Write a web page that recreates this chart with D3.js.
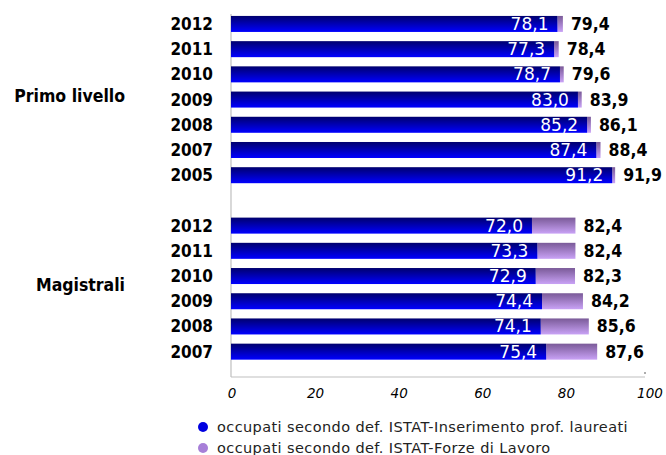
<!DOCTYPE html>
<html>
<head>
<meta charset="utf-8">
<script src="https://cdn.jsdelivr.net/npm/d3@7"></script>
<style>
  body { margin: 0; background: #fff; }
  text { font-family: "DejaVu Sans", sans-serif; }
  .cond { font-stretch: condensed; }
</style>
</head>
<body>
<div id="chart"></div>
<script>
var groups = ["Primo livello", "Magistrali"],
    primoYears = ["2012", "2011", "2010", "2009", "2008", "2007", "2005"],
    primoInserimento = [78.1, 77.3, 78.7, 83.0, 85.2, 87.4, 91.2],
    primoForze = [79.4, 78.4, 79.6, 83.9, 86.1, 88.4, 91.9],
    magYears = ["2012", "2011", "2010", "2009", "2008", "2007"],
    magInserimento = [72.0, 73.3, 72.9, 74.4, 74.1, 75.4],
    magForze = [82.4, 82.4, 82.3, 84.2, 85.6, 87.6],
    xTicks = [0, 20, 40, 60, 80, 100],
    seriesNames = ["occupati secondo def. ISTAT-Inserimento prof. laureati",
                   "occupati secondo def. ISTAT-Forze di Lavoro"];

var W = 666, H = 455,
    margin = { top: 14, left: 231, right: 17, bottom: 78 };

var rows = [];
primoYears.forEach(function (y, i) {
    rows.push({ key: "p" + y, year: y, g: 0, a: primoInserimento[i], b: primoForze[i] });
});
rows.push({ key: "gap", year: "", g: -1 });
magYears.forEach(function (y, i) {
    rows.push({ key: "m" + y, year: y, g: 1, a: magInserimento[i], b: magForze[i] });
});
var data = rows.filter(function (d) { return d.g >= 0; });

var svg = d3.select("#chart").append("svg")
    .attr("width", W)
    .attr("height", H);

var defs = svg.append("defs");
var gBlue = defs.append("linearGradient").attr("id", "gBlue")
    .attr("x1", 0).attr("y1", 0).attr("x2", 0).attr("y2", 1);
gBlue.append("stop").attr("offset", "0%").attr("stop-color", "#00006e");
gBlue.append("stop").attr("offset", "100%").attr("stop-color", "#0000ff");
var gPurple = defs.append("linearGradient").attr("id", "gPurple")
    .attr("x1", 0).attr("y1", 0).attr("x2", 0).attr("y2", 1);
gPurple.append("stop").attr("offset", "0%").attr("stop-color", "#7a5a98");
gPurple.append("stop").attr("offset", "100%").attr("stop-color", "#c9a2f6");

var x = d3.scaleLinear()
    .domain([0, 100])
    .range([margin.left, margin.left + 418]);

var y = d3.scaleBand()
    .domain(rows.map(function (d) { return d.key; }))
    .range([11.4, 364.2])
    .paddingInner(0.365)
    .paddingOuter(0.18);

// frame lines
svg.append("line")
    .attr("x1", margin.left).attr("x2", margin.left)
    .attr("y1", margin.top).attr("y2", 377)
    .attr("stroke", "#bfbfbf").attr("stroke-width", 1.2);
svg.append("line")
    .attr("x1", margin.left).attr("x2", x(100) - 4)
    .attr("y1", 377).attr("y2", 377)
    .attr("stroke", "#bfbfbf").attr("stroke-width", 1.2);

var bars = svg.selectAll(".row")
    .data(data)
    .enter().append("g")
    .attr("class", "row");

bars.append("rect")
    .attr("x", function (d) { return x(d.a); })
    .attr("y", function (d) { return y(d.key); })
    .attr("width", function (d) { return x(d.b) - x(d.a); })
    .attr("height", y.bandwidth())
    .attr("fill", "url(#gPurple)");

bars.append("rect")
    .attr("x", x(0))
    .attr("y", function (d) { return y(d.key); })
    .attr("width", function (d) { return x(d.a) - x(0); })
    .attr("height", y.bandwidth())
    .attr("fill", "url(#gBlue)");

var fmt = function (v) { return v.toFixed(1).replace(".", ","); };

bars.append("text")
    .attr("x", function (d) { return x(d.a) - 9; })
    .attr("y", function (d) { return y(d.key) + y.bandwidth() / 2 + 6; })
    .attr("text-anchor", "end")
    .attr("fill", "#fff")
    .attr("font-size", 17)
    .text(function (d) { return fmt(d.a); });

bars.append("text")
    .attr("class", "cond")
    .attr("x", function (d) { return x(d.b) + 8; })
    .attr("y", function (d) { return y(d.key) + y.bandwidth() / 2 + 6; })
    .attr("fill", "#000")
    .attr("font-size", 17.5)
    .attr("font-weight", "bold")
    .text(function (d) { return fmt(d.b); });

// year labels
bars.append("text")
    .attr("class", "cond")
    .attr("x", 213)
    .attr("y", function (d) { return y(d.key) + y.bandwidth() / 2 + 6; })
    .attr("text-anchor", "end")
    .attr("font-size", 17)
    .attr("font-weight", "bold")
    .text(function (d) { return d.year; });

// group labels
var gMid = [0, 1].map(function (g) {
    var k = data.filter(function (d) { return d.g === g; });
    var top = y(k[0].key), bot = y(k[k.length - 1].key) + y.bandwidth();
    return (top + bot) / 2;
});
svg.selectAll(".grp")
    .data(groups)
    .enter().append("text")
    .attr("class", "grp cond")
    .attr("x", 125)
    .attr("y", function (d, i) { return gMid[i] + 2; })
    .attr("text-anchor", "end")
    .attr("font-size", 17.5)
    .attr("font-weight", "bold")
    .text(function (d) { return d; });

// x axis labels
svg.selectAll(".tick")
    .data(xTicks)
    .enter().append("text")
    .attr("class", "tick")
    .attr("x", function (d) { return x(d) + 1; })
    .attr("y", 398)
    .attr("text-anchor", "middle")
    .attr("font-size", 13.5)
    .attr("font-style", "italic")
    .text(function (d) { return d; });

svg.append("circle")
    .attr("cx", 645).attr("cy", 373).attr("r", 0.8).attr("fill", "#444");

// legend
var leg = svg.selectAll(".leg")
    .data(seriesNames)
    .enter().append("g")
    .attr("class", "leg")
    .attr("transform", function (d, i) { return "translate(203," + (427 + i * 21) + ")"; });

leg.append("circle")
    .attr("r", 5)
    .attr("fill", function (d, i) { return i === 0 ? "#0000e0" : "#a77fd8"; });

leg.append("text")
    .attr("x", 14)
    .attr("y", 5)
    .attr("font-size", 14.5)
    .attr("letter-spacing", 0.4)
    .attr("fill", "#222")
    .text(function (d) { return d; });
</script>
</body>
</html>
